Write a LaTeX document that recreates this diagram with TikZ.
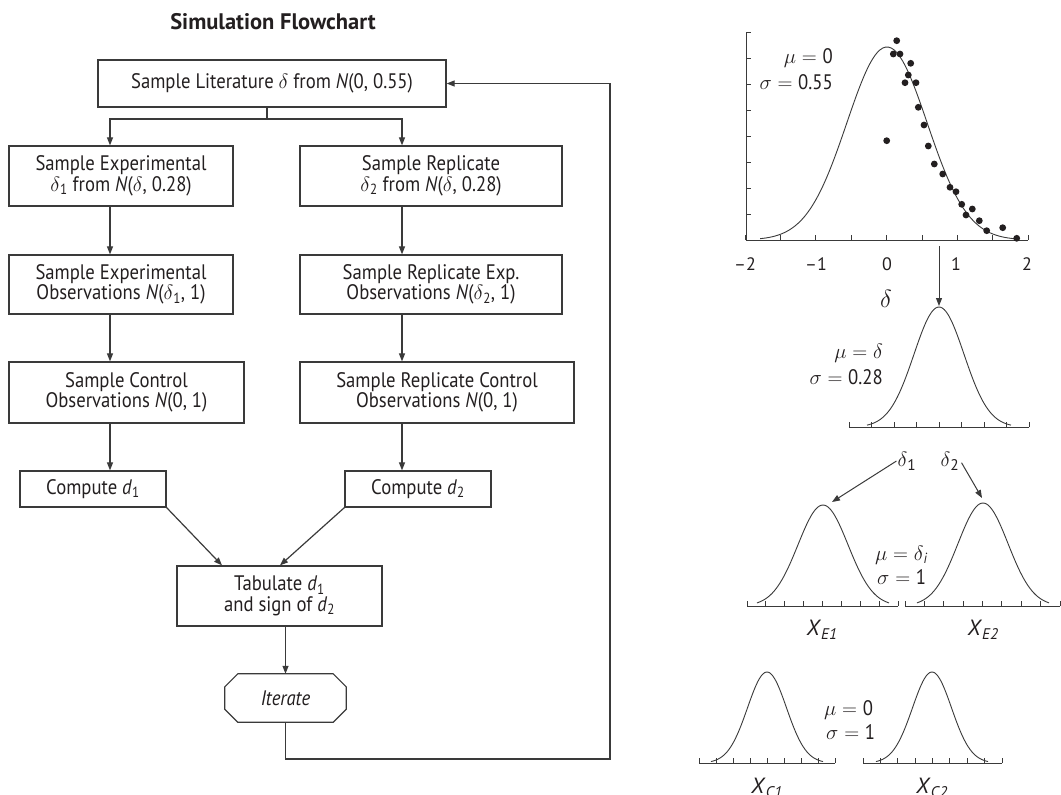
\documentclass[tikz,border=0pt]{standalone}
\usepackage{fontspec}
\setmainfont{PT Sans}[FakeStretch=0.89]
\newfontfamily\plainfont{PT Sans}[Ligatures=TeX]
\usetikzlibrary{arrows.meta}
\definecolor{lc}{HTML}{3A3A3A}
\definecolor{tc}{HTML}{231F20}
\newcommand{\mysub}[1]{\textsubscript{#1}}
\newcommand{\bellcurve}[5]{%
  \draw[curve] plot[domain=-#5:#5, samples=70, smooth] ({#1+\x},{#2-#3*exp(-(\x*\x)/(2*#4*#4))});}
\newcommand{\tickrow}[3]{%
  \draw[axis] (#1,#3) -- (#2,#3);
  \foreach \k in {0,...,8} \draw[axis] ({#1+(#2-#1)*\k/8},#3) -- ++(0,-5);}
\begin{document}
\begin{tikzpicture}[x=1pt,y=-1pt,
  box/.style={draw=lc, line width=1.3pt, align=center, inner sep=0pt, text=tc,
    font=\fontsize{21}{20.5}\selectfont},
  arr/.style={draw=lc, line width=1.2pt, -{Triangle[length=8pt,width=6pt]}},
  ln/.style={draw=lc, line width=1.2pt},
  curve/.style={draw=lc, line width=0.9pt},
  axis/.style={draw=lc, line width=1pt},
  lab/.style={text=tc, inner sep=1pt, font=\plainfont\fontsize{18}{21}\selectfont},
  eq/.style={text=tc, inner sep=1pt, font=\fontsize{21}{22}\selectfont},
  big/.style={text=tc, inner sep=1pt, font=\plainfont\fontsize{22}{24}\selectfont},
  dot/.style={fill=tc}]
\useasboundingbox (0,0) rectangle (1061,795);

% ---------- flowchart ----------
\node[text=tc, font=\plainfont\fontsize{22.5}{26}\selectfont\bfseries] (title) at (273,22) {Simulation Flowchart};

\node[box, minimum width=348pt, minimum height=47pt] (b1) at (272,83.5)
  {Sample Literature $\delta$ from \textit{N}(0, 0.55)};
\node[box, minimum width=224pt, minimum height=60pt] (b2L) at (121,176)
  {Sample Experimental\\$\delta$\mysub{1} from \textit{N}($\delta$, 0.28)};
\node[box, minimum width=262pt, minimum height=60pt] (b2R) at (431,176)
  {Sample Replicate\\$\delta$\mysub{2} from \textit{N}($\delta$, 0.28)};
\node[box, minimum width=224pt, minimum height=59pt] (b3L) at (121,284.5)
  {Sample Experimental\\Observations \textit{N}($\delta$\mysub{1}, 1)};
\node[box, minimum width=262pt, minimum height=59pt] (b3R) at (431,284.5)
  {Sample Replicate Exp.\\Observations \textit{N}($\delta$\mysub{2}, 1)};
\node[box, minimum width=235pt, minimum height=61pt] (b4L) at (126.5,392.5)
  {Sample Control\\Observations \textit{N}(0, 1)};
\node[box, minimum width=274pt, minimum height=61pt] (b4R) at (437,392.5)
  {Sample Replicate Control\\Observations \textit{N}(0, 1)};
\node[box, minimum width=146pt, minimum height=36pt] (b5L) at (93,489)
  {Compute \textit{d}\mysub{1}};
\node[box, minimum width=146pt, minimum height=36pt] (b5R) at (418,489)
  {Compute \textit{d}\mysub{2}};
\node[box, minimum width=205pt, minimum height=60pt] (b6) at (279.5,596)
  {Tabulate \textit{d}\mysub{1}\\and sign of \textit{d}\mysub{2}};
\node[inner sep=0pt, minimum width=121pt, minimum height=48pt, text=tc,
  font=\fontsize{21}{20.5}\selectfont\itshape] (iter) at (285.5,698) {Iterate};
\draw[ln] ([xshift=13pt]iter.north west) -- ([xshift=-13pt]iter.north east)
  -- ([yshift=-13pt]iter.north east) -- ([yshift=13pt]iter.south east)
  -- ([xshift=-13pt]iter.south east) -- ([xshift=13pt]iter.south west)
  -- ([yshift=13pt]iter.south west) -- ([yshift=-13pt]iter.north west) -- cycle;

\coordinate (cL) at (110,0);
\coordinate (cR) at (402,0);
\coordinate (br) at (267,119);
\coordinate (loop) at (610,759);

\draw[ln] (b1.south -| br) -- (br);
\draw[arr] (br) -| (b2L.north -| cL);
\draw[arr] (br) -| (b2R.north -| cR);
\draw[arr] (b2L.south -| cL) -- (b3L.north -| cL);
\draw[arr] (b3L.south -| cL) -- (b4L.north -| cL);
\draw[arr] (b4L.south -| cL) -- (b5L.north -| cL);
\draw[arr] (b2R.south -| cR) -- (b3R.north -| cR);
\draw[arr] (b3R.south -| cR) -- (b4R.north -| cR);
\draw[arr] (b4R.south -| cR) -- (b5R.north -| cR);
\draw[arr] (b5L.south east) -- ([xshift=-57.5pt]b6.north);
\draw[arr] (b5R.south west) -- ([xshift=0.5pt]b6.north);
\draw[arr] (b6.south -| iter.north) -- (iter.north);
\draw[arr] (iter.south) |- (loop) |- (b1.east);

% ---------- top plot ----------
\draw[axis] (746,33) -- (746,240) -- (1028,240);
\foreach \k in {1,...,8} \draw[axis] (746,{240-25.9*\k}) -- ++(5,0);
\foreach \k in {0,...,8} \draw[axis] ({745+35.4*\k},240) -- ++(0,-5);
\draw[curve] plot[domain=-1.8:1.8, samples=90, smooth]
  ({887+70.5*\x},{240-193*exp(-(\x*\x)/(2*0.57*0.57))});
\foreach \px/\py in {896.7/40.7, 893.3/54, 900/54, 910.7/63.3, 908.3/75, 905/82.7,
  916/82.7, 918.3/107.3, 924/125, 928.3/146, 934.3/164, 942.7/174, 950/187.3,
  956/191.7, 961.7/204.3, 966/215, 972.3/209, 979.3/220.7, 986.7/230.7,
  1002.7/227.7, 1016.7/238.3, 886.7/140.7}
  \fill[dot] (\px,\py) circle (3.4pt);
\foreach \v/\xx [count=\i] in {–2/745, –1/816, 0/887, 1/956, 2/1027}
  \node[lab] (tk\i) at (\xx,264) {\v};
\node[eq, anchor=east] (m1) at (834,58) {$\mu = {}$0};
\node[eq, anchor=east] (s1) at (834,82) {$\sigma = {}$0.55};
\node[text=tc, inner sep=1pt, font=\fontsize{27}{28}\selectfont] (dlab) at (886,299) {$\delta$};

% ---------- second plot ----------
\tickrow{849}{1029}{427}
\bellcurve{939}{427}{120}{25}{72}
\coordinate (a1s) at (939,246);
\coordinate (p2top) at (939,306);
\draw[arr, line width=1pt] (a1s) -- (p2top);
\node[eq, anchor=east] (m2) at (884,353) {$\mu = \delta$};
\node[eq, anchor=east] (s2) at (884,377) {$\sigma = {}$0.28};

% ---------- third row ----------
\tickrow{747}{898}{606}
\tickrow{905}{1060}{606}
\bellcurve{823}{606}{101}{25}{66}
\bellcurve{983}{606}{103}{25}{66}
\node[big] (d1) at (907,461) {$\delta$\mysub{1}};
\node[big] (d2) at (950,461) {$\delta$\mysub{2}};
\coordinate (p3L) at (832,502);
\coordinate (p3R) at (982,498);
\draw[arr, line width=1pt] (d1.west) -- (p3L);
\draw[arr, line width=1pt, shorten <=2pt] (d2.east) -- (p3R);
\node[eq, anchor=west] (m3) at (874,555) {$\mu = \delta$\mysub{\textit{i}}};
\node[eq, anchor=west] (s3) at (876,577) {$\sigma = {}$1};
\node[big] (xe1) at (822,630) {\textit{X}\mysub{\textit{E1}}};
\node[big] (xe2) at (983,630) {\textit{X}\mysub{\textit{E2}}};

% ---------- fourth row ----------
\tickrow{699}{835}{763}
\tickrow{863}{1002}{763}
\bellcurve{767}{763}{91}{19.5}{56}
\bellcurve{932}{763}{91}{19.5}{56}
\node[eq, anchor=west] (m4) at (823,710) {$\mu = {}$0};
\node[eq, anchor=west] (s4) at (825,732) {$\sigma = {}$1};
\node[big] (xc1) at (767,788) {\textit{X}\mysub{\textit{C1}}};
\node[big] (xc2) at (932,788) {\textit{X}\mysub{\textit{C2}}};
\end{tikzpicture}
\end{document}
